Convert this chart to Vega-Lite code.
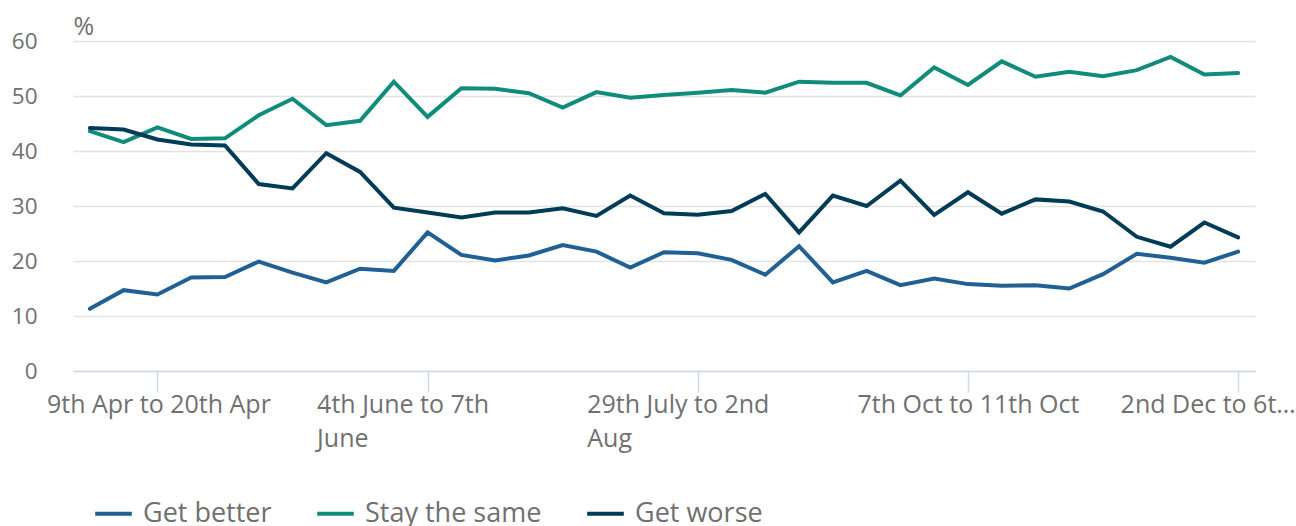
{
  "$schema": "https://vega.github.io/schema/vega-lite/v6.json",
  "width": 1182,
  "height": 330,
  "autosize": "none",
  "padding": {"left": 73, "top": 41, "right": 41, "bottom": 155},
  "background": "white",
  "config": {
    "font": "Open Sans",
    "view": {"stroke": null}
  },
  "data": {
    "values": [
      {"period": "27th Mar to 6th Apr", "series": "Get better", "value": 11.3},
      {"period": "3rd Apr to 13th Apr", "series": "Get better", "value": 14.7},
      {"period": "9th Apr to 20th Apr", "series": "Get better", "value": 13.9},
      {"period": "16th Apr to 27th Apr", "series": "Get better", "value": 17.0},
      {"period": "24th Apr to 3rd May", "series": "Get better", "value": 17.1},
      {"period": "30th Apr to 10th May", "series": "Get better", "value": 19.9},
      {"period": "7th May to 10th May", "series": "Get better", "value": 17.9},
      {"period": "14th May to 17th May", "series": "Get better", "value": 16.1},
      {"period": "21st May to 24th May", "series": "Get better", "value": 18.6},
      {"period": "28th May to 31st May", "series": "Get better", "value": 18.2},
      {"period": "4th June to 7th June", "series": "Get better", "value": 25.2},
      {"period": "11th June to 14th June", "series": "Get better", "value": 21.1},
      {"period": "18th June to 21st June", "series": "Get better", "value": 20.1},
      {"period": "25th June to 28th June", "series": "Get better", "value": 21.0},
      {"period": "1st July to 5th July", "series": "Get better", "value": 22.9},
      {"period": "8th July to 12th July", "series": "Get better", "value": 21.7},
      {"period": "15th July to 19th July", "series": "Get better", "value": 18.8},
      {"period": "22nd July to 26th July", "series": "Get better", "value": 21.6},
      {"period": "29th July to 2nd Aug", "series": "Get better", "value": 21.4},
      {"period": "5th Aug to 9th Aug", "series": "Get better", "value": 20.2},
      {"period": "12th Aug to 16th Aug", "series": "Get better", "value": 17.5},
      {"period": "19th Aug to 23rd Aug", "series": "Get better", "value": 22.7},
      {"period": "2nd Sept to 6th Sept", "series": "Get better", "value": 16.1},
      {"period": "9th Sept to 13th Sept", "series": "Get better", "value": 18.2},
      {"period": "16th Sept to 20th Sept", "series": "Get better", "value": 15.6},
      {"period": "24th Sept to 27th Sept", "series": "Get better", "value": 16.8},
      {"period": "7th Oct to 11th Oct", "series": "Get better", "value": 15.8},
      {"period": "14th Oct to 18th Oct", "series": "Get better", "value": 15.5},
      {"period": "21st Oct to 25th Oct", "series": "Get better", "value": 15.6},
      {"period": "28th Oct to 1st Nov", "series": "Get better", "value": 15.0},
      {"period": "5th Nov to 8th Nov", "series": "Get better", "value": 17.6},
      {"period": "11th Nov to 15th Nov", "series": "Get better", "value": 21.3},
      {"period": "18th Nov to 22nd Nov", "series": "Get better", "value": 20.6},
      {"period": "25th Nov to 29th Nov", "series": "Get better", "value": 19.7},
      {"period": "2nd Dec to 6th Dec", "series": "Get better", "value": 21.7},

      {"period": "27th Mar to 6th Apr", "series": "Stay the same", "value": 43.6},
      {"period": "3rd Apr to 13th Apr", "series": "Stay the same", "value": 41.6},
      {"period": "9th Apr to 20th Apr", "series": "Stay the same", "value": 44.3},
      {"period": "16th Apr to 27th Apr", "series": "Stay the same", "value": 42.2},
      {"period": "24th Apr to 3rd May", "series": "Stay the same", "value": 42.3},
      {"period": "30th Apr to 10th May", "series": "Stay the same", "value": 46.5},
      {"period": "7th May to 10th May", "series": "Stay the same", "value": 49.5},
      {"period": "14th May to 17th May", "series": "Stay the same", "value": 44.7},
      {"period": "21st May to 24th May", "series": "Stay the same", "value": 45.5},
      {"period": "28th May to 31st May", "series": "Stay the same", "value": 52.6},
      {"period": "4th June to 7th June", "series": "Stay the same", "value": 46.2},
      {"period": "11th June to 14th June", "series": "Stay the same", "value": 51.4},
      {"period": "18th June to 21st June", "series": "Stay the same", "value": 51.3},
      {"period": "25th June to 28th June", "series": "Stay the same", "value": 50.5},
      {"period": "1st July to 5th July", "series": "Stay the same", "value": 47.9},
      {"period": "8th July to 12th July", "series": "Stay the same", "value": 50.7},
      {"period": "15th July to 19th July", "series": "Stay the same", "value": 49.7},
      {"period": "22nd July to 26th July", "series": "Stay the same", "value": 50.2},
      {"period": "29th July to 2nd Aug", "series": "Stay the same", "value": 50.6},
      {"period": "5th Aug to 9th Aug", "series": "Stay the same", "value": 51.1},
      {"period": "12th Aug to 16th Aug", "series": "Stay the same", "value": 50.6},
      {"period": "19th Aug to 23rd Aug", "series": "Stay the same", "value": 52.6},
      {"period": "2nd Sept to 6th Sept", "series": "Stay the same", "value": 52.4},
      {"period": "9th Sept to 13th Sept", "series": "Stay the same", "value": 52.4},
      {"period": "16th Sept to 20th Sept", "series": "Stay the same", "value": 50.1},
      {"period": "24th Sept to 27th Sept", "series": "Stay the same", "value": 55.2},
      {"period": "7th Oct to 11th Oct", "series": "Stay the same", "value": 52.0},
      {"period": "14th Oct to 18th Oct", "series": "Stay the same", "value": 56.3},
      {"period": "21st Oct to 25th Oct", "series": "Stay the same", "value": 53.5},
      {"period": "28th Oct to 1st Nov", "series": "Stay the same", "value": 54.4},
      {"period": "5th Nov to 8th Nov", "series": "Stay the same", "value": 53.6},
      {"period": "11th Nov to 15th Nov", "series": "Stay the same", "value": 54.7},
      {"period": "18th Nov to 22nd Nov", "series": "Stay the same", "value": 57.1},
      {"period": "25th Nov to 29th Nov", "series": "Stay the same", "value": 53.9},
      {"period": "2nd Dec to 6th Dec", "series": "Stay the same", "value": 54.2},

      {"period": "27th Mar to 6th Apr", "series": "Get worse", "value": 44.2},
      {"period": "3rd Apr to 13th Apr", "series": "Get worse", "value": 43.9},
      {"period": "9th Apr to 20th Apr", "series": "Get worse", "value": 42.1},
      {"period": "16th Apr to 27th Apr", "series": "Get worse", "value": 41.2},
      {"period": "24th Apr to 3rd May", "series": "Get worse", "value": 41.0},
      {"period": "30th Apr to 10th May", "series": "Get worse", "value": 34.0},
      {"period": "7th May to 10th May", "series": "Get worse", "value": 33.2},
      {"period": "14th May to 17th May", "series": "Get worse", "value": 39.6},
      {"period": "21st May to 24th May", "series": "Get worse", "value": 36.2},
      {"period": "28th May to 31st May", "series": "Get worse", "value": 29.7},
      {"period": "4th June to 7th June", "series": "Get worse", "value": 28.8},
      {"period": "11th June to 14th June", "series": "Get worse", "value": 27.9},
      {"period": "18th June to 21st June", "series": "Get worse", "value": 28.8},
      {"period": "25th June to 28th June", "series": "Get worse", "value": 28.8},
      {"period": "1st July to 5th July", "series": "Get worse", "value": 29.6},
      {"period": "8th July to 12th July", "series": "Get worse", "value": 28.2},
      {"period": "15th July to 19th July", "series": "Get worse", "value": 31.9},
      {"period": "22nd July to 26th July", "series": "Get worse", "value": 28.7},
      {"period": "29th July to 2nd Aug", "series": "Get worse", "value": 28.4},
      {"period": "5th Aug to 9th Aug", "series": "Get worse", "value": 29.1},
      {"period": "12th Aug to 16th Aug", "series": "Get worse", "value": 32.2},
      {"period": "19th Aug to 23rd Aug", "series": "Get worse", "value": 25.2},
      {"period": "2nd Sept to 6th Sept", "series": "Get worse", "value": 31.9},
      {"period": "9th Sept to 13th Sept", "series": "Get worse", "value": 30.0},
      {"period": "16th Sept to 20th Sept", "series": "Get worse", "value": 34.6},
      {"period": "24th Sept to 27th Sept", "series": "Get worse", "value": 28.4},
      {"period": "7th Oct to 11th Oct", "series": "Get worse", "value": 32.5},
      {"period": "14th Oct to 18th Oct", "series": "Get worse", "value": 28.6},
      {"period": "21st Oct to 25th Oct", "series": "Get worse", "value": 31.2},
      {"period": "28th Oct to 1st Nov", "series": "Get worse", "value": 30.8},
      {"period": "5th Nov to 8th Nov", "series": "Get worse", "value": 29.0},
      {"period": "11th Nov to 15th Nov", "series": "Get worse", "value": 24.4},
      {"period": "18th Nov to 22nd Nov", "series": "Get worse", "value": 22.6},
      {"period": "25th Nov to 29th Nov", "series": "Get worse", "value": 27.0},
      {"period": "2nd Dec to 6th Dec", "series": "Get worse", "value": 24.3}
    ]
  },
  "mark": {"type": "line", "strokeWidth": 4, "strokeJoin": "miter", "strokeCap": "round"},
  "encoding": {
    "x": {
      "field": "period",
      "type": "ordinal",
      "sort": null,
      "scale": {"type": "point", "padding": 0.5},
      "axis": {
        "title": null,
        "values": ["9th Apr to 20th Apr", "4th June to 7th June", "29th July to 2nd Aug", "7th Oct to 11th Oct", "2nd Dec to 6th Dec"],
        "labelExpr": "datum.label == '4th June to 7th June' ? ['4th June to 7th', 'June'] : datum.label == '29th July to 2nd Aug' ? ['29th July to 2nd', 'Aug'] : datum.label == '2nd Dec to 6th Dec' ? '2nd Dec to 6t…' : datum.label",
        "labelAngle": 0,
        "labelAlign": "left",
        "labelBaseline": "top",
        "labelOffset": {"condition": {"test": "datum.label == '2nd Dec to 6th Dec'", "value": -118}, "value": -111},
        "labelLimit": 300,
        "labelFontSize": 25,
        "labelColor": "#707070",
        "labelLineHeight": 34,
        "labelPadding": 0,
        "labelOverlap": false,
        "labelFlush": false,
        "domainColor": "#cfd8ea",
        "domainWidth": 1.5,
        "tickColor": "#cfd8ea",
        "tickWidth": 1.5,
        "tickSize": 21,
        "grid": false
      }
    },
    "y": {
      "field": "value",
      "type": "quantitative",
      "scale": {"domain": [0, 60], "nice": false},
      "axis": {
        "title": "%",
        "titleAngle": 0,
        "titleX": 0,
        "titleY": -7,
        "titleAlign": "left",
        "titleBaseline": "alphabetic",
        "titleFontSize": 25,
        "titleFontWeight": "normal",
        "titleColor": "#707070",
        "values": [0, 10, 20, 30, 40, 50, 60],
        "domain": false,
        "ticks": false,
        "grid": true,
        "gridColor": "#e2e2e2",
        "gridWidth": 1.5,
        "labelFontSize": 22.5,
        "labelColor": "#707070",
        "labelPadding": 36,
        "labelBaseline": "middle"
      }
    },
    "color": {
      "field": "series",
      "type": "nominal",
      "sort": ["Get better", "Stay the same", "Get worse"],
      "scale": {"domain": ["Get better", "Stay the same", "Get worse"], "range": ["#206095", "#118c7b", "#003c57"]},
      "legend": {
        "title": null,
        "orient": "none",
        "direction": "horizontal",
        "legendX": 20,
        "legendY": 452,
        "padding": 0,
        "symbolType": "stroke",
        "symbolSize": 1340,
        "symbolStrokeWidth": 4,
        "labelFontSize": 27,
        "labelColor": "#707070",
        "labelOffset": 9,
        "columnPadding": 37,
        "labelLimit": 400
      }
    }
  }
}
